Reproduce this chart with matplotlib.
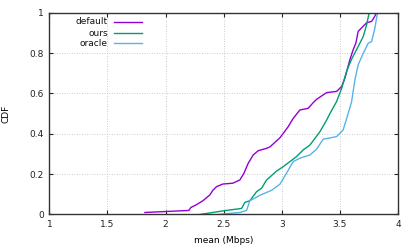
import matplotlib
matplotlib.use("Agg")
import matplotlib.pyplot as plt

# CDF points (mean throughput in Mbps, cumulative fraction)
default_x = [1.822, 2.20, 2.218, 2.261, 2.321, 2.381, 2.407, 2.439, 2.493, 2.579, 2.639,
             2.674, 2.711, 2.754, 2.797, 2.869, 2.898, 2.984, 3.055, 3.098, 3.156, 3.227,
             3.270, 3.300, 3.386, 3.472, 3.515, 3.543, 3.586, 3.614, 3.638, 3.657, 3.687,
             3.730, 3.773, 3.793, 3.816]
default_y = [0.010, 0.020, 0.035, 0.047, 0.068, 0.097, 0.120, 0.138, 0.151, 0.155, 0.171,
             0.204, 0.254, 0.295, 0.316, 0.328, 0.335, 0.380, 0.435, 0.476, 0.518, 0.526,
             0.554, 0.571, 0.604, 0.610, 0.634, 0.675, 0.767, 0.816, 0.850, 0.907, 0.925,
             0.950, 0.957, 0.975, 1.0]

ours_x = [2.295, 2.496, 2.654, 2.682, 2.725, 2.783, 2.826, 2.869, 2.955, 3.012, 3.070,
          3.127, 3.184, 3.242, 3.285, 3.328, 3.386, 3.414, 3.472, 3.515, 3.558, 3.601,
          3.657, 3.701, 3.730, 3.752]
ours_y = [0.0, 0.018, 0.030, 0.060, 0.068, 0.113, 0.130, 0.171, 0.215, 0.237, 0.262,
          0.287, 0.320, 0.344, 0.377, 0.410, 0.468, 0.500, 0.560, 0.625, 0.710, 0.770,
          0.832, 0.882, 0.940, 1.0]

oracle_x = [2.453, 2.639, 2.697, 2.725, 2.811, 2.912, 2.984, 3.041, 3.098, 3.156, 3.242,
            3.300, 3.356, 3.472, 3.528, 3.571, 3.601, 3.629, 3.657, 3.701, 3.744, 3.773,
            3.801, 3.821, 3.830]
oracle_y = [0.0, 0.010, 0.020, 0.068, 0.095, 0.120, 0.150, 0.205, 0.262, 0.279, 0.295,
            0.324, 0.373, 0.386, 0.419, 0.500, 0.559, 0.667, 0.741, 0.799, 0.849, 0.857,
            0.923, 0.990, 1.0]

labels = ["default", "ours", "oracle"]
colors = ["#9400d3", "#009e73", "#56b4e9"]

x_ticks = [1, 1.5, 2, 2.5, 3, 3.5, 4]
x_tick_labels = ["1", "1.5", "2", "2.5", "3", "3.5", "4"]
y_ticks = [0, 0.2, 0.4, 0.6, 0.8, 1]
y_tick_labels = ["0", "0.2", "0.4", "0.6", "0.8", "1"]

plt.rcParams["font.family"] = "DejaVu Sans"
plt.rcParams["font.size"] = 6.5

fig = plt.figure(figsize=(4.15, 2.49), dpi=100)
ax = fig.add_axes([0.119, 0.1386, 0.840, 0.8104])

series = [(default_x, default_y), (ours_x, ours_y), (oracle_x, oracle_y)]
for (xs, ys), col in zip(series, colors):
    ax.plot(xs, ys, color=col, lw=1.0)

ax.set_xlim(1, 4)
ax.set_ylim(0, 1)
ax.set_xticks(x_ticks, x_tick_labels)
ax.set_yticks(y_ticks, y_tick_labels)
ax.tick_params(direction="in", length=3, width=0.8, top=True, right=True,
               labelsize=6.5, colors="#222222", pad=4)
ax.grid(True, color="#bbbbbb", lw=0.6, ls=(0, (1, 2)))
for sp in ax.spines.values():
    sp.set_linewidth(1.0)
    sp.set_color("#333333")

ax.set_xlabel("mean (Mbps)", fontsize=6.5, labelpad=5)
ax.set_ylabel("CDF", fontsize=6.5, labelpad=14)

# gnuplot-style key: right-aligned text followed by a line sample
key_rows = [0.954, 0.899, 0.849]
for lab, col, yk in zip(labels, colors, key_rows):
    ax.text(0.168, yk, lab, transform=ax.transAxes, ha="right", va="center",
            fontsize=6.5, color="#111111")
    ax.plot([0.185, 0.265], [yk, yk], transform=ax.transAxes, color=col, lw=1.0)

fig.savefig("out.png", dpi=100)
